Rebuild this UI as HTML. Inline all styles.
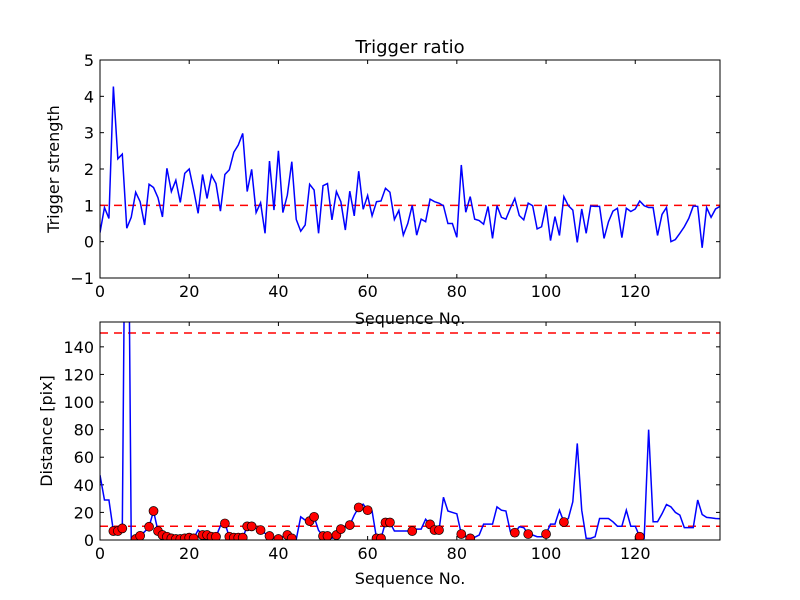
<!DOCTYPE html>
<html><head><meta charset="utf-8"><style>
html,body{margin:0;padding:0;background:#fff}
svg{display:block;font-family:"DejaVu Sans","Liberation Sans",sans-serif}
</style></head><body>
<svg id="chart" width="800" height="600" viewBox="0 0 800 600">
<rect width="800" height="600" fill="#fff"/>
</svg>
<script>
const seqIndex = Array.from({length:140},(_,i)=>i);
const strengthValues = [0.25,0.94,0.64,4.27,2.28,2.41,0.37,0.67,1.36,1.1,0.46,1.58,1.49,1.21,0.68,2.02,1.38,1.69,1.08,1.88,2.0,1.42,0.78,1.85,1.19,1.83,1.6,0.84,1.85,1.98,2.46,2.66,2.98,1.38,1.99,0.8,1.07,0.23,2.22,0.87,2.5,0.8,1.28,2.2,0.61,0.29,0.46,1.58,1.42,0.23,1.54,1.6,0.6,1.38,1.1,0.32,1.39,0.71,1.94,0.89,1.27,0.71,1.1,1.12,1.47,1.36,0.61,0.86,0.18,0.5,1.0,0.18,0.62,0.55,1.17,1.1,1.06,0.99,0.5,0.5,0.12,2.11,0.81,1.24,0.62,0.58,0.48,0.97,0.09,0.99,0.67,0.62,0.92,1.19,0.72,0.6,1.06,0.99,0.35,0.41,1.0,0.03,0.69,0.17,1.24,0.99,0.87,-0.02,0.9,0.23,0.98,0.97,0.97,0.09,0.55,0.84,0.92,0.11,0.92,0.83,0.9,1.12,0.99,0.94,0.94,0.17,0.75,0.94,0.0,0.06,0.23,0.41,0.64,0.98,0.97,-0.17,0.94,0.67,0.9,0.97];
const distanceValues = [47,29,29,6.5,6.5,8.4,400,0,0.7,3,6,9.6,21,6.5,3.6,2.4,1.2,0.7,0.7,1.2,1.7,1.2,7.2,3.6,3.6,2.4,2.4,10.3,12,2.4,1.7,1.7,1.7,9.9,9.9,8.4,7.2,4.8,2.9,1.2,0.7,2.4,3.6,1.2,0.5,16.8,14.4,13.7,16.8,7,2.9,2.9,1.2,3.6,7.9,9.6,10.8,18,23.6,26,21.6,21,1.2,1.2,12.7,12.7,6.5,6.5,6.5,6.5,6.5,7.9,7.9,15,11.3,7.2,7.2,31,21,20,19,4.3,2.4,1.2,2,3.6,11.5,11.5,11.5,24,21.6,21,6,5.3,9.6,9,4.3,3.6,2.4,2.4,4.3,11.5,11.5,21.6,13,15.6,27.7,70,21.6,1.2,1.2,2.4,15.6,15.6,15.6,13.2,10,10,21.6,10,10,2.4,1.2,80,13.2,13.2,19,25.7,24,20,18,9,9,9,29,18.5,16.4,16,15.6,15.4];
const markerIndices = [3,4,5,8,9,11,12,13,14,15,16,17,18,19,20,21,23,24,25,26,28,29,30,31,32,33,34,36,38,40,42,43,47,48,50,51,53,54,56,58,60,62,63,64,65,70,74,75,76,81,83,93,96,100,104,121];
const xTicks = [0,20,40,60,80,100,120];
const topYTicks = [-1,0,1,2,3,4,5];
const botYTicks = [0,20,40,60,80,100,120,140];
const strengthThreshold = 1;
const distanceThresholds = [10,150];

const NS="http://www.w3.org/2000/svg";
const svg=document.getElementById('chart');
function mk(tag,attrs,parent){const e=document.createElementNS(NS,tag);for(const k in attrs)e.setAttribute(k,attrs[k]);(parent||svg).appendChild(e);return e;}
const L=100,R=720;
const xScale=v=>L+(v-0)/(139-0)*(R-L);
const topY=v=>60+(5-v)/6*218;
const botY=v=>540-(v/158)*218;

function drawAxes(T,B,yScale,yTicks,prefix){
  const g=mk('g',{});
  
  
  xTicks.forEach(t=>{const x=xScale(t);
    mk('line',{x1:x,x2:x,y1:B,y2:B-4,stroke:'#000','stroke-width':1},g);
    mk('line',{x1:x,x2:x,y1:T,y2:T+4,stroke:'#000','stroke-width':1},g);
    const tx=mk('text',{x:x,y:B+19,'text-anchor':'middle','font-size':'16'},g);tx.textContent=t;
    
    
  });
  yTicks.forEach(t=>{const y=yScale(t);
    mk('line',{x1:L,x2:L+4,y1:y,y2:y,stroke:'#000','stroke-width':1},g);
    mk('line',{x1:R,x2:R-4,y1:y,y2:y,stroke:'#000','stroke-width':1},g);
    const tx=mk('text',{x:L-6,y:y+6,'text-anchor':'end','font-size':'16'},g);tx.textContent=(t<0?'\u2212'+(-t):t);
    
    
  });
}

// Top plot
const cpT=mk('clipPath',{id:'cpT'});mk('rect',{x:L,y:60,width:R-L,height:218},cpT);
drawAxes(60,278,topY,topYTicks,'top');
const thr=mk('line',{x1:L,x2:R,y1:topY(strengthThreshold),y2:topY(strengthThreshold),stroke:'#f00','stroke-width':1.5,'stroke-dasharray':'8,6','clip-path':'url(#cpT)'});


const pT=mk('polyline',{points:seqIndex.map(i=>xScale(i)+','+topY(strengthValues[i])).join(' '),fill:'none',stroke:'#00f','stroke-width':1.5,'clip-path':'url(#cpT)'});


const frT=mk('rect',{x:L,y:60,width:R-L,height:218,fill:'none',stroke:'#000','stroke-width':1});



// Bottom plot
const cpB=mk('clipPath',{id:'cpB'});mk('rect',{x:L,y:322,width:R-L,height:218},cpB);
drawAxes(322,540,botY,botYTicks,'bottom');
distanceThresholds.forEach(v=>{const l=mk('line',{x1:L,x2:R,y1:botY(v),y2:botY(v),stroke:'#f00','stroke-width':1.5,'stroke-dasharray':'8,6','clip-path':'url(#cpB)'});
  
  });
const pB=mk('polyline',{points:seqIndex.map(i=>xScale(i)+','+botY(distanceValues[i])).join(' '),fill:'none',stroke:'#00f','stroke-width':1.5,'clip-path':'url(#cpB)'});


markerIndices.forEach(i=>{const c=mk('circle',{cx:xScale(i),cy:botY(distanceValues[i]),r:4.5,fill:'#f00',stroke:'#000','stroke-width':0.7,'clip-path':'url(#cpB)'});
  
  });
const frB=mk('rect',{x:L,y:322,width:R-L,height:218,fill:'none',stroke:'#000','stroke-width':1});



function label(txt,attrs,name){const t=mk('text',attrs);t.textContent=txt;
  
  }
label('Trigger ratio',{x:410,y:53,'text-anchor':'middle','font-size':'18'},'chart-title');
label('Sequence No.',{x:410,y:324,'text-anchor':'middle','font-size':'16'},'top-x-axis-title');
label('Sequence No.',{x:410,y:584,'text-anchor':'middle','font-size':'16'},'bottom-x-axis-title');
label('Trigger strength',{x:0,y:0,'text-anchor':'middle','font-size':'16',transform:'translate(59,169) rotate(-90)'},'top-y-axis-title');
label('Distance [pix]',{x:0,y:0,'text-anchor':'middle','font-size':'16',transform:'translate(52,431) rotate(-90)'},'bottom-y-axis-title');
</script>
</body></html>
